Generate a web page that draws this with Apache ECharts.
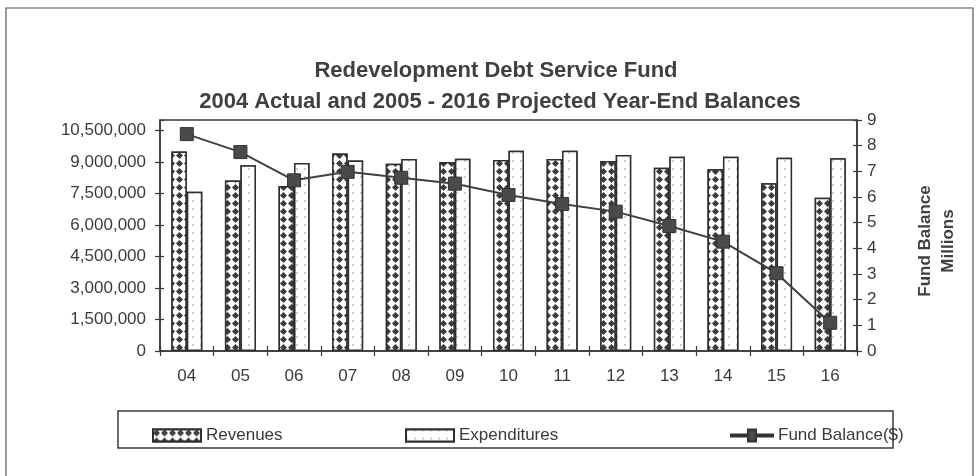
<!DOCTYPE html>
<html>
<head>
<meta charset="utf-8">
<script src="https://cdn.jsdelivr.net/npm/echarts@6/dist/echarts.min.js"></script>
<style>
  html, body { margin: 0; padding: 0; background: #fff; }
  #chart { width: 979px; height: 476px; }
</style>
</head>
<body>
<div id="chart"></div>
<script>
// ---- data ----
const categories = ['04','05','06','07','08','09','10','11','12','13','14','15','16'];
const revenues = [9500000, 8120000, 7860000, 9400000, 8920000, 9000000, 9100000, 9140000, 9050000, 8730000, 8650000, 7990000, 7300000];
const expenditures = [7580000, 8850000, 8950000, 9070000, 9140000, 9160000, 9540000, 9540000, 9330000, 9250000, 9250000, 9200000, 9180000];
const fundBalanceMillions = [8.45, 7.75, 6.65, 6.98, 6.75, 6.52, 6.08, 5.73, 5.43, 4.87, 4.26, 3.03, 1.10];
const titleLines = ['Redevelopment Debt Service Fund', '2004 Actual and 2005 - 2016 Projected Year-End Balances'];
const rightAxisNameLines = ['Fund Balance', 'Millions'];
const seriesNames = ['Revenues', 'Expenditures', 'Fund Balance($)'];

const FONT = '"Liberation Sans", Arial, sans-serif';
const INK = '#3a3a3a';

function fmtComma(v) {
  return String(Math.round(v)).replace(/\B(?=(\d{3})+(?!\d))/g, ',');
}

const chart = echarts.init(document.getElementById('chart'), null, { renderer: 'canvas' });

const revDecal = {
  symbol: 'diamond', symbolSize: 1, symbolKeepAspect: false,
  color: '#3c3c3c', backgroundColor: '#ffffff',
  dashArrayX: [7, 1], dashArrayY: [7, 1]
};
const expDecal = {
  symbol: 'circle', symbolSize: 0.7,
  color: '#777777', backgroundColor: '#ffffff',
  dashArrayX: [2, 6], dashArrayY: [2, 6]
};

const gridPos = { left: 160, right: 122, top: 120, bottom: 125 };
const legendText = { fontSize: 17, color: INK, fontFamily: FONT };

const option = {
  animation: false,
  backgroundColor: '#ffffff',
  textStyle: { fontFamily: FONT },
  grid: Object.assign({ show: true, borderColor: INK, borderWidth: 1.5, backgroundColor: 'transparent', containLabel: false }, gridPos),
  legend: [
    { data: [{ name: seriesNames[0], icon: 'rect' }], left: 147, top: 422, itemWidth: 48, itemHeight: 12, itemGap: 4, textStyle: legendText },
    { data: [{ name: seriesNames[1], icon: 'rect' }], left: 400, top: 422, itemWidth: 48, itemHeight: 12, itemGap: 4, textStyle: legendText },
    { data: [{ name: seriesNames[2], icon: 'path://M0,5 L17,5 L17,0 L25,0 L25,5 L42,5 L42,7 L25,7 L25,12 L17,12 L17,7 L0,7 Z' }], left: 725, top: 422, itemWidth: 42, itemHeight: 12, itemGap: 4, textStyle: legendText }
  ],
  xAxis: [
    {
      type: 'category', data: categories, boundaryGap: true,
      axisLine: { show: true, lineStyle: { color: INK, width: 1.5 } },
      axisTick: { show: true, inside: false, length: 5, lineStyle: { color: INK, width: 1.2 } },
      axisLabel: { fontSize: 17, color: INK, margin: 17, fontFamily: FONT },
      splitLine: { show: false }
    },
    {
      type: 'category', data: categories, boundaryGap: true, position: 'bottom',
      axisLine: { show: false },
      axisTick: { show: true, inside: true, length: 5, lineStyle: { color: INK, width: 1.2 } },
      axisLabel: { show: false }, splitLine: { show: false }
    }
  ],
  yAxis: [
    {
      type: 'value', position: 'left', min: 0, max: 11000000, interval: 1500000,
      axisLine: { show: true, lineStyle: { color: INK, width: 1.5 } },
      axisTick: { show: true, inside: false, length: 5, lineStyle: { color: INK, width: 1.2 } },
      axisLabel: { fontSize: 17, color: INK, margin: 14, showMaxLabel: false, fontFamily: FONT,
        formatter: v => (v > 10500000 ? '' : fmtComma(v)) },
      splitLine: { show: false }
    },
    {
      type: 'value', position: 'right', min: 0, max: 9, interval: 1,
      axisLine: { show: true, lineStyle: { color: INK, width: 1.5 } },
      axisTick: { show: true, inside: false, length: 5, lineStyle: { color: INK, width: 1.2 } },
      axisLabel: { fontSize: 17, color: INK, margin: 10, fontFamily: FONT },
      splitLine: { show: false }
    },
    {
      type: 'value', position: 'left', min: 0, max: 11000000, interval: 1500000,
      axisLine: { show: false },
      axisTick: { show: true, inside: true, length: 4, lineStyle: { color: INK, width: 1.2 } },
      axisLabel: { show: false }, splitLine: { show: false }
    },
    {
      type: 'value', position: 'right', min: 0, max: 9, interval: 1,
      axisLine: { show: false },
      axisTick: { show: true, inside: true, length: 4, lineStyle: { color: INK, width: 1.2 } },
      axisLabel: { show: false }, splitLine: { show: false }
    }
  ],
  series: [
    {
      name: seriesNames[0], type: 'bar', xAxisIndex: 0, yAxisIndex: 0, data: revenues,
      barWidth: 15.5, barGap: '0%',
      itemStyle: { color: '#ffffff', borderColor: '#2e2e2e', borderWidth: 1.5, decal: revDecal }
    },
    {
      name: seriesNames[1], type: 'bar', xAxisIndex: 0, yAxisIndex: 0, data: expenditures,
      barWidth: 15.5, barGap: '0%',
      itemStyle: { color: '#ffffff', borderColor: '#2e2e2e', borderWidth: 1.5, decal: expDecal }
    },
    {
      name: seriesNames[2], type: 'line', xAxisIndex: 0, yAxisIndex: 1, data: fundBalanceMillions,
      symbol: 'rect', symbolSize: 13, showSymbol: true,
      lineStyle: { color: '#404040', width: 2 },
      itemStyle: { color: '#4a4a4a', borderColor: '#333', borderWidth: 1 },
      z: 5
    }
  ],
  graphic: [
    { type: 'rect', silent: true, z: -10, shape: { x: 6, y: 8, width: 967, height: 480 }, style: { fill: null, stroke: '#555', lineWidth: 1.2 } },
    { type: 'rect', silent: true, z: -5, shape: { x: 118, y: 411, width: 775, height: 37 }, style: { fill: null, stroke: INK, lineWidth: 1.5 } },
    { type: 'text', silent: true, x: 496, y: 71, style: { text: titleLines[0], fill: '#404040', font: 'bold 22px ' + FONT, textAlign: 'center', textVerticalAlign: 'middle' } },
    { type: 'text', silent: true, x: 500, y: 102, style: { text: titleLines[1], fill: '#404040', font: 'bold 22px ' + FONT, textAlign: 'center', textVerticalAlign: 'middle' } },
    { type: 'text', silent: true, x: 925, y: 241, rotation: Math.PI / 2, style: { text: rightAxisNameLines[0], fill: '#404040', font: 'bold 17px ' + FONT, textAlign: 'center', textVerticalAlign: 'middle' } },
    { type: 'text', silent: true, x: 948, y: 241, rotation: Math.PI / 2, style: { text: rightAxisNameLines[1], fill: '#404040', font: 'bold 17px ' + FONT, textAlign: 'center', textVerticalAlign: 'middle' } }
  ]
};

chart.setOption(option);
</script>
</body>
</html>
